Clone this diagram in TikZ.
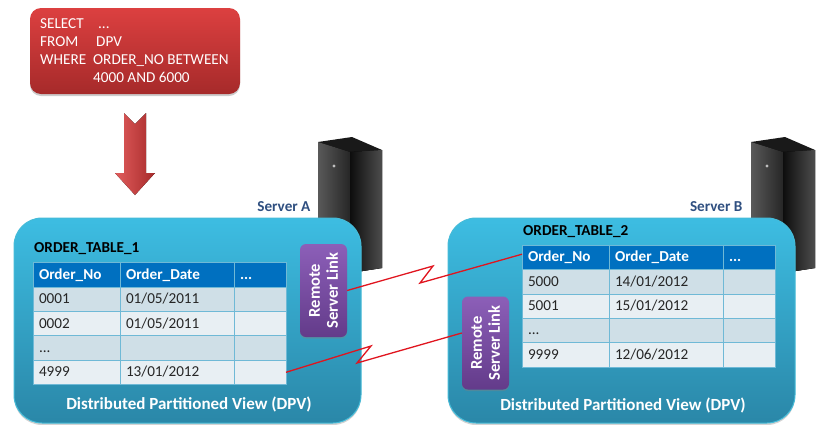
\documentclass[tikz,border=0pt]{standalone}
\usepackage{fontspec}
\setmainfont{Carlito}
\usetikzlibrary{positioning,shadows}
\definecolor{hdrblue}{HTML}{0070C0}
\definecolor{rowdark}{HTML}{CFDFE7}
\definecolor{rowlight}{HTML}{E8EFF3}
\definecolor{cellline}{HTML}{6FB9D6}
\definecolor{titlenavy}{HTML}{2F4F80}
\definecolor{paneltop}{HTML}{3DBDE2}
\definecolor{panelbot}{HTML}{2A87A8}
\definecolor{paneledge}{HTML}{45BBD8}
\definecolor{querytop}{HTML}{DC4040}
\definecolor{querybot}{HTML}{A62A2A}
\definecolor{linktop}{HTML}{8C5FB8}
\definecolor{linkbot}{HTML}{633B8A}
\definecolor{wirered}{HTML}{E0141E}

\begin{document}
\begin{tikzpicture}[x=1pt,y=-1pt,every node/.style={font=\fontsize{15.2}{17.5}\selectfont},
panel/.style={draw=paneledge,line width=1pt,rounded corners=28pt,minimum width=347pt,minimum height=205pt,inner sep=0,top color=paneltop,bottom color=panelbot,drop shadow={opacity=.35,shadow xshift=0pt,shadow yshift=-2pt}},
linkbox/.style={rounded corners=6pt,minimum width=47pt,minimum height=93pt,inner sep=0,top color=linktop,bottom color=linkbot,drop shadow={opacity=.4,shadow xshift=0pt,shadow yshift=-1.5pt}},
linktext/.style={rotate=90,text=white,align=center,font=\fontsize{16.5}{18}\selectfont\bfseries},
cell/.style={draw=cellline,line width=.6pt,inner xsep=6pt,inner ysep=0,outer sep=0,minimum height=24.4pt,text height=11pt,text depth=2pt,align=left,text=black!85},
colno/.style={cell,text width=75pt},
coldate/.style={cell,text width=102pt},
colmore/.style={cell,text width=40pt},
hdr/.style={fill=hdrblue,text=white,font=\fontsize{15.2}{17.5}\selectfont\bfseries},
dark/.style={fill=rowdark},
light/.style={fill=rowlight},
wire/.style={draw=wirered,line width=1.3pt,line join=miter}]

\useasboundingbox (0,0) rectangle (823,424);

% Servers
\foreach \srv in {0,433}{
\begin{scope}[xshift=\srv pt]
\fill[black!90] (318,142) -- (352,137) -- (382,150) -- (382,268) -- (350,273) -- (318,273) -- cycle;
\fill[left color=black!65,right color=black!85] (318,142) -- (350,152) -- (350,273) -- (318,273) -- cycle;
\fill[left color=black!95,right color=black!70] (350,152) -- (382,150) -- (382,268) -- (350,273) -- cycle;
\fill[black!25] (334,166) circle (1.6pt);
\end{scope}
}

% Nodes
\node[rounded corners=11pt,minimum width=210pt,minimum height=86pt,inner sep=0,top color=querytop,bottom color=querybot,drop shadow={opacity=.4,shadow xshift=0pt,shadow yshift=-2pt}] (query) at (135,51) {};
\node[anchor=west,text=white,align=left,font=\fontsize{15.2}{18}\selectfont,inner sep=0] (querytext) at (40,51) {\makebox[58pt][l]{SELECT}...\\\makebox[56pt][l]{FROM}DPV\\\makebox[53pt][l]{WHERE}ORDER\_NO BETWEEN\\\makebox[53pt][l]{}4000 AND 6000};

\fill[left color=querytop!85!white,right color=querybot] (124,113) -- (135,124) -- (146,113) -- (146,173) -- (155,173) -- (135,195) -- (115,173) -- (124,173) -- cycle;

\node[text=titlenavy,font=\fontsize{15.2}{17.5}\selectfont\bfseries,anchor=east] (srvA) at (314,207) {Server A};
\node[text=titlenavy,font=\fontsize{15.2}{17.5}\selectfont\bfseries,anchor=east] (srvB) at (746,207) {Server B};

\node[panel] (dpvA) at (187.5,320.5) {};
\node[panel] (dpvB) at (621.5,320.5) {};
\node[text=white,font=\fontsize{17}{20}\selectfont\bfseries] (viewA) at (189,404) {Distributed Partitioned View (DPV)};
\node[text=white,font=\fontsize{17}{20}\selectfont\bfseries] (viewB) at (623,405) {Distributed Partitioned View (DPV)};

\node[anchor=west,text=black,font=\fontsize{15.2}{17.5}\selectfont\bfseries,inner sep=0] (nameA) at (34,249) {ORDER\_TABLE\_1};
\node[anchor=west,text=black,font=\fontsize{15.2}{17.5}\selectfont\bfseries,inner sep=0] (nameB) at (523,231.5) {ORDER\_TABLE\_2};

\node[colno,hdr,anchor=north west] (a00) at (33,262.5) {Order\_No};
\node[coldate,hdr,right=0pt of a00] (a01) {Order\_Date};
\node[colmore,hdr,right=0pt of a01] (a02) {...};
\node[colno,dark,below=0pt of a00] (a10) {0001};
\node[coldate,dark,right=0pt of a10] (a11) {01/05/2011};
\node[colmore,dark,right=0pt of a11] (a12) {};
\node[colno,light,below=0pt of a10] (a20) {0002};
\node[coldate,light,right=0pt of a20] (a21) {01/05/2011};
\node[colmore,light,right=0pt of a21] (a22) {};
\node[colno,dark,below=0pt of a20] (a30) {...};
\node[coldate,dark,right=0pt of a30] (a31) {};
\node[colmore,dark,right=0pt of a31] (a32) {};
\node[colno,light,below=0pt of a30] (a40) {4999};
\node[coldate,light,right=0pt of a40] (a41) {13/01/2012};
\node[colmore,light,right=0pt of a41] (a42) {};

\node[colno,hdr,anchor=north west] (b00) at (522,245) {Order\_No};
\node[coldate,hdr,right=0pt of b00] (b01) {Order\_Date};
\node[colmore,hdr,right=0pt of b01] (b02) {...};
\node[colno,dark,below=0pt of b00] (b10) {5000};
\node[coldate,dark,right=0pt of b10] (b11) {14/01/2012};
\node[colmore,dark,right=0pt of b11] (b12) {};
\node[colno,light,below=0pt of b10] (b20) {5001};
\node[coldate,light,right=0pt of b20] (b21) {15/01/2012};
\node[colmore,light,right=0pt of b21] (b22) {};
\node[colno,dark,below=0pt of b20] (b30) {...};
\node[coldate,dark,right=0pt of b30] (b31) {};
\node[colmore,dark,right=0pt of b31] (b32) {};
\node[colno,light,below=0pt of b30] (b40) {9999};
\node[coldate,light,right=0pt of b40] (b41) {12/06/2012};
\node[colmore,light,right=0pt of b41] (b42) {};

\node[linkbox] (linkA) at (323.5,290.5) {};
\node[linktext] (linkAtext) at (linkA) {Remote\\Server Link};
\node[linkbox] (linkB) at (485.5,343) {};
\node[linktext] (linkBtext) at (linkB) {Remote\\Server Link};

\coordinate (zigA1) at (433,266);
\coordinate (zigA2) at (420,283);
\coordinate (zigB1) at (371,346);
\coordinate (zigB2) at (357,363);

%arcs
\path[wire] (linkA.east) -- (zigA1) -- (zigA2) -- ([yshift=3pt]b00.west);
\path[wire] (a42.east) -- (zigB1) -- (zigB2) -- ([yshift=10pt]linkB.west);

\end{tikzpicture}
\end{document}
